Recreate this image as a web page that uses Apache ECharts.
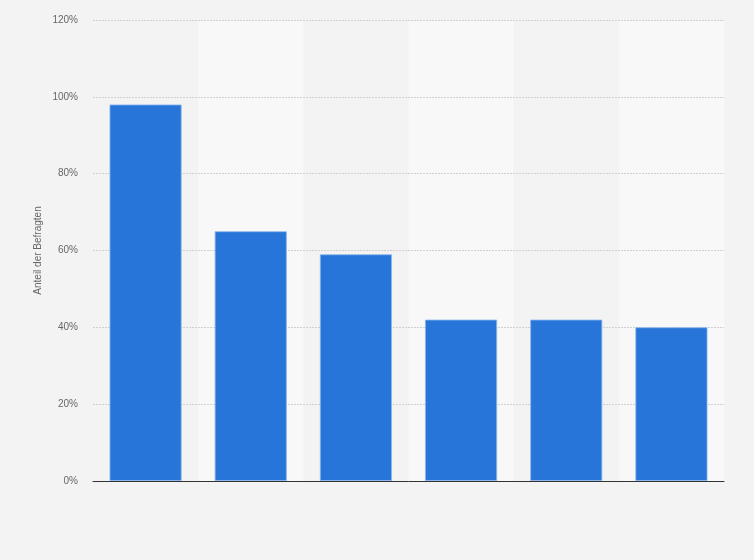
<!DOCTYPE html>
<html>
<head>
<meta charset="utf-8">
<script src="https://cdn.jsdelivr.net/npm/echarts@6/dist/echarts.min.js"></script>
<style>
  html, body { margin: 0; padding: 0; background: #f3f3f3; }
  #chart { width: 754px; height: 560px; }
</style>
</head>
<body>
<div id="chart"></div>
<script>
const categories = ["1", "2", "3", "4", "5", "6"];
const shares = [98, 65, 59, 42, 42, 40];
const yTicks = [0, 20, 40, 60, 80, 100, 120];

const chart = echarts.init(document.getElementById("chart"));

chart.setOption({
  backgroundColor: "#f3f3f3",
  animation: false,
  grid: {
    left: 93,
    right: 30,
    top: 20,
    bottom: 79
  },
  xAxis: [
    {
      // alternating column bands, drawn under everything
      type: "category",
      data: categories,
      z: 0,
      axisLine: { show: false },
      axisTick: { show: false },
      axisLabel: { show: false },
      splitArea: {
        show: true,
        areaStyle: { color: ["rgba(0,0,0,0)", "#f8f8f8"] }
      }
    },
    {
      // baseline on top of the dotted grid
      type: "category",
      data: categories,
      position: "bottom",
      z: 4,
      axisLine: { lineStyle: { color: "#333", width: 1 } },
      axisTick: { show: false },
      axisLabel: { show: false },
      splitLine: { show: false }
    }
  ],
  yAxis: {
    type: "value",
    z: 1,
    min: yTicks[0],
    max: yTicks[yTicks.length - 1],
    interval: 20,
    name: "Anteil der Befragten",
    nameLocation: "middle",
    nameMoveOverlap: false,
    nameGap: 50,
    nameTextStyle: { color: "#666", fontSize: 10, fontFamily: "Arial, Liberation Sans, sans-serif" },
    axisLine: { show: false },
    axisTick: { show: false },
    axisLabel: {
      color: "#666",
      fontSize: 10,
      margin: 15,
      fontFamily: "Arial, Liberation Sans, sans-serif",
      formatter: "{value}%"
    },
    splitLine: {
      lineStyle: { color: "#d0d0d0", type: [2, 1], width: 1 }
    }
  },
  series: [
    {
      type: "bar",
      data: shares,
      barWidth: "68.5%",
      z: 3,
      itemStyle: {
        color: "#2775d9",
        borderColor: "#8ab6ee",
        borderWidth: 0.8
      }
    }
  ]
});
</script>
</body>
</html>
